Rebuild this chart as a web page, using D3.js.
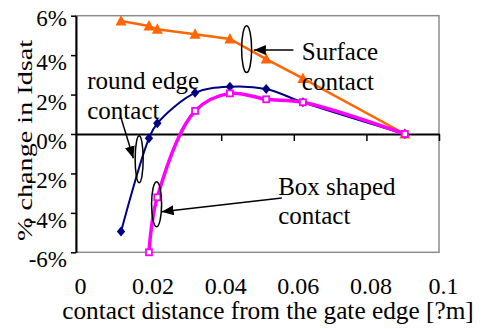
<!DOCTYPE html>
<html>
<head>
<meta charset="utf-8">
<style>
  body { margin: 0; background: #fff; }
  svg { display: block; }
  text { font-family: "Liberation Serif", "DejaVu Serif", serif; fill: #000; }
</style>
</head>
<body>
<script src="https://cdn.jsdelivr.net/npm/d3@7"></script>
<script>

// contact distance (um) shared by the three series
var distance = [0.0124, 0.0201, 0.0224, 0.0328, 0.0424, 0.0524, 0.0625, 0.0906];
// % change in Idsat
var surface = [5.73, 5.48, 5.31, 5.06, 4.82, 3.80, 2.82, 0];
var roundEdge = [-4.95, -0.22, 0.54, 2.09, 2.40, 2.28, 1.61, 0];
var boxShaped = [null, -6.0, -3.21, 1.17, 2.06, 1.76, 1.61, 0];

var xTicks = [0, 0.02, 0.04, 0.06, 0.08, 0.1];
var yTicks = [-6, -4, -2, 0, 2, 4, 6];

// annotations, in data units: [x, y]
var notes = [
  {lines: ["Surface", "contact"], at: [0.0622, 3.75], ellipse: [0.047, 4.30], arrow: [[0.0599, 4.26], [0.049, 4.26]]},
  {lines: ["round edge", "contact"], at: [0.0031, 2.27], ellipse: [0.0174, -1.28], arrow: [[0.0123, 0.88], [0.0158, -1.23]]},
  {lines: ["Box shaped", "contact"], at: [0.0557, -3.09], ellipse: [0.0222, -3.56], arrow: [[0.0567, -3.25], [0.0236, -3.94]]}
];

var FONT = '"Liberation Serif", "DejaVu Serif", serif';
var W = 483, H = 329;
var margin = {top: 15.7, right: 44, bottom: 76.7, left: 76};

var x = d3.scaleLinear().domain([0, 0.1]).range([margin.left, W - margin.right]);
var y = d3.scaleLinear().domain([-6, 6]).range([H - margin.bottom, margin.top]);

var svg = d3.select("body").append("svg")
    .attr("width", W)
    .attr("height", H)
    .attr("font-family", FONT);

svg.append("rect").attr("width", W).attr("height", H).attr("fill", "#fff");

// plot area border
svg.append("rect")
    .attr("x", x(0)).attr("y", y(6))
    .attr("width", x(0.1) - x(0)).attr("height", y(-6) - y(6))
    .attr("fill", "none").attr("stroke", "#8c8c8c").attr("stroke-width", 1.5);

// y axis
var yAxis = svg.append("g")
    .attr("transform", `translate(${x(0)},0)`)
    .call(d3.axisLeft(y).tickValues(yTicks).tickSize(5).tickSizeOuter(0).tickPadding(4)
        .tickFormat(d => d + "%"));
yAxis.attr("font-family", FONT);
yAxis.select(".domain").attr("stroke-width", 2);
yAxis.selectAll(".tick line").attr("stroke-width", 1.5);
yAxis.selectAll(".tick text")
    .attr("font-size", 23)
    .attr("dy", d => d == 6 ? 9.5 : 14.5);

// x axis line at zero, ticks only
var xAxis = svg.append("g")
    .attr("transform", `translate(0,${y(0)})`)
    .call(d3.axisBottom(x).tickValues(xTicks.slice(1)).tickSize(7).tickSizeOuter(0).tickFormat(""));
xAxis.select(".domain").attr("stroke-width", 2);
xAxis.selectAll(".tick line").attr("stroke-width", 1.5);

// x tick labels under the plot
var xLabels = svg.append("g")
    .attr("transform", `translate(4,${H - 35.5})`)
    .call(d3.axisBottom(x).tickValues(xTicks).tickSize(0).tickPadding(0)
        .tickFormat(d => String(+d.toFixed(2))));
xLabels.attr("font-family", FONT);
xLabels.select(".domain").remove();
xLabels.selectAll(".tick text")
    .attr("font-size", 24).attr("dy", 0);

// axis titles
svg.append("text")
    .attr("x", 268).attr("y", 319)
    .attr("text-anchor", "middle")
    .attr("font-size", 25.3)
    .text("contact distance from the gate edge [?m]");

svg.append("text")
    .attr("transform", "translate(31.5,140.5) rotate(-90) scale(1.41,1)")
    .attr("text-anchor", "middle")
    .attr("font-size", 20)
    .text("% change in Idsat");

// series
function pts(vals) {
  return distance.map((d, i) => [d, vals[i]]).filter(p => p[1] != null);
}

var lineLin = d3.line().x(d => x(d[0])).y(d => y(d[1]));
var lineSmooth = d3.line().x(d => x(d[0])).y(d => y(d[1])).curve(d3.curveCatmullRom.alpha(0.5));

svg.append("path").datum(pts(surface))
    .attr("d", lineLin).attr("fill", "none")
    .attr("stroke", "#ff6600").attr("stroke-width", 2.5);

svg.append("path").datum(pts(roundEdge))
    .attr("d", lineSmooth).attr("fill", "none")
    .attr("stroke", "#000080").attr("stroke-width", 2);

svg.append("path").datum(pts(boxShaped))
    .attr("d", lineSmooth).attr("fill", "none")
    .attr("stroke", "#ff00ff").attr("stroke-width", 3.5);

// markers
svg.append("g").selectAll("path")
    .data(pts(surface)).enter().append("path")
    .attr("d", "M0,-6L5.5,4.5L-5.5,4.5Z")
    .attr("transform", d => `translate(${x(d[0])},${y(d[1])})`)
    .attr("fill", "#ff6600");

svg.append("g").selectAll("path")
    .data(pts(roundEdge)).enter().append("path")
    .attr("d", "M0,-5L4.2,0L0,5L-4.2,0Z")
    .attr("transform", d => `translate(${x(d[0])},${y(d[1])})`)
    .attr("fill", "#000080");

svg.append("g").selectAll("rect")
    .data(pts(boxShaped)).enter().append("rect")
    .attr("x", d => x(d[0]) - 3).attr("y", d => y(d[1]) - 3)
    .attr("width", 6).attr("height", 6)
    .attr("fill", "#fff").attr("stroke", "#ff00ff").attr("stroke-width", 1.8);

// annotations
svg.append("defs").append("marker")
    .attr("id", "head")
    .attr("viewBox", "0 0 12 10")
    .attr("refX", 12).attr("refY", 5)
    .attr("markerWidth", 12).attr("markerHeight", 10)
    .attr("markerUnits", "userSpaceOnUse")
    .attr("orient", "auto")
  .append("path")
    .attr("d", "M0,0L12,5L0,10Z")
    .attr("fill", "#000");

var ann = svg.append("g");
notes.forEach(function(n, k) {
  var ry = k == 2 ? 22.5 : 23.4;
  var rx = k == 1 ? 4 : 5;
  ann.append("ellipse")
      .attr("cx", x(n.ellipse[0])).attr("cy", y(n.ellipse[1]))
      .attr("rx", rx).attr("ry", ry)
      .attr("fill", "none").attr("stroke", "#000").attr("stroke-width", 1.5);
  ann.append("line")
      .attr("x1", x(n.arrow[0][0])).attr("y1", y(n.arrow[0][1]))
      .attr("x2", x(n.arrow[1][0])).attr("y2", y(n.arrow[1][1]))
      .attr("stroke", "#000").attr("stroke-width", 1.5)
      .attr("marker-end", "url(#head)");
  ann.append("text")
      .attr("font-size", 25)
      .selectAll("tspan").data(n.lines).enter().append("tspan")
      .attr("x", x(n.at[0]))
      .attr("y", (d, i) => y(n.at[1]) + i * 29.5)
      .text(d => d);
});

</script>
</body>
</html>
